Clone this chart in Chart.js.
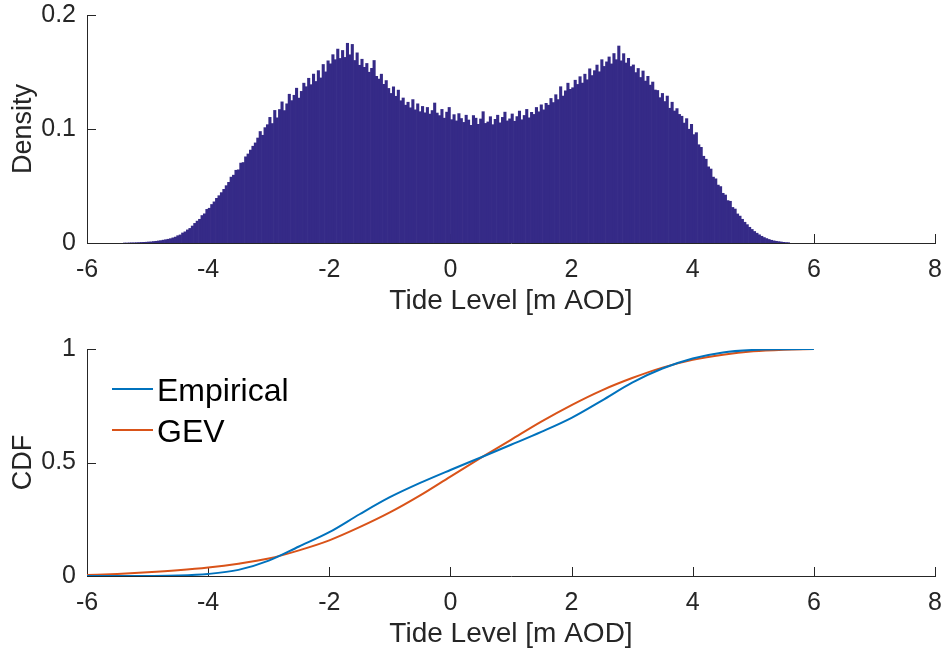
<!DOCTYPE html>
<html>
<head>
<meta charset="utf-8">
<script src="https://cdn.jsdelivr.net/npm/chart.js@4"></script>
<style>
  html, body { margin: 0; padding: 0; background: #fff; width: 945px; height: 653px; overflow: hidden; }
  #top { position: absolute; left: 0; top: 0; width: 945px; height: 326px; }
  #bot { position: absolute; left: 0; top: 326px; width: 945px; height: 327px; }
</style>
</head>
<body>
<div id="top"><canvas id="hist"></canvas></div>
<div id="bot"><canvas id="cdf"></canvas></div>
<script>
// histogram: bins of 0.04 m starting at -5.4
const binStart = -5.4;
const binWidth = 0.04;
const density = [
  0, 0, 0.0001, 0.0002, 0.0002,
  0.0003, 0.0004, 0.0005, 0.0006, 0.0007,
  0.0009, 0.0010, 0.0013, 0.0015, 0.0018,
  0.0021, 0.0025, 0.0029, 0.0033, 0.0038,
  0.0045, 0.0052, 0.0064, 0.0071, 0.0088,
  0.0098, 0.0115, 0.0128, 0.0149, 0.0172,
  0.0192, 0.0208, 0.0241, 0.0256, 0.0295,
  0.0305, 0.0338, 0.0361, 0.0392, 0.0415,
  0.0442, 0.0471, 0.0503, 0.0532, 0.0578,
  0.0595, 0.0638, 0.0642, 0.0701, 0.0706,
  0.0756, 0.0781, 0.0815, 0.0849, 0.0878,
  0.0921, 0.0978, 0.0945, 0.1012, 0.1038,
  0.1102, 0.1048, 0.1163, 0.1098, 0.1171,
  0.1238, 0.1162, 0.1221, 0.1305, 0.1249,
  0.1296, 0.1358, 0.1271, 0.1330, 0.1402,
  0.1371, 0.1445, 0.1389, 0.1482, 0.1417,
  0.1512, 0.1448, 0.1566, 0.1501, 0.1598,
  0.1572, 0.1652, 0.1608, 0.1701, 0.1619,
  0.1689, 0.1628, 0.1752, 0.1651, 0.1742,
  0.1601, 0.1668, 0.1559, 0.1612, 0.1541,
  0.1575, 0.1498, 0.1532, 0.1601, 0.1462,
  0.1438, 0.1481, 0.1392, 0.1425, 0.1356,
  0.1312, 0.1369, 0.1287, 0.1341, 0.1248,
  0.1272, 0.1209, 0.1235, 0.1186, 0.1258,
  0.1168, 0.1221, 0.1152, 0.1198, 0.1142,
  0.1189, 0.1131, 0.1162, 0.1228, 0.1140,
  0.1118, 0.1172, 0.1095, 0.1148, 0.1189,
  0.1082, 0.1126, 0.1071, 0.1135, 0.1092,
  0.1058, 0.1121, 0.1079, 0.1032, 0.1118,
  0.1095, 0.1041, 0.1088, 0.1152, 0.1049,
  0.1062, 0.1108, 0.1038, 0.1085, 0.1121,
  0.1054, 0.1102, 0.1148, 0.1071, 0.1089,
  0.1132, 0.1068, 0.1109, 0.1158, 0.1081,
  0.1119, 0.1172, 0.1098, 0.1146, 0.1128,
  0.1189, 0.1151, 0.1212, 0.1168, 0.1225,
  0.1209, 0.1268, 0.1232, 0.1301, 0.1258,
  0.1371, 0.1289, 0.1335, 0.1402, 0.1348,
  0.1362, 0.1428, 0.1391, 0.1459, 0.1402,
  0.1481, 0.1432, 0.1528, 0.1469, 0.1512,
  0.1561, 0.1502, 0.1608, 0.1549, 0.1589,
  0.1632, 0.1571, 0.1662, 0.1608, 0.1728,
  0.1598, 0.1661, 0.1579, 0.1621, 0.1548,
  0.1562, 0.1495, 0.1531, 0.1452, 0.1509,
  0.1421, 0.1462, 0.1385, 0.1412, 0.1342,
  0.1338, 0.1275, 0.1312, 0.1241, 0.1289,
  0.1182, 0.1235, 0.1158, 0.1179, 0.1128,
  0.1112, 0.1052, 0.1091, 0.0998, 0.1041,
  0.0951, 0.0968, 0.0862, 0.0839, 0.0761,
  0.0735, 0.0668, 0.0649, 0.0578, 0.0563,
  0.0508, 0.0495, 0.0436, 0.0421, 0.0372,
  0.0366, 0.0312, 0.0298, 0.0255, 0.0236,
  0.0208, 0.0182, 0.0161, 0.0138, 0.0119,
  0.0101, 0.0086, 0.0072, 0.0059, 0.0048,
  0.0039, 0.0031, 0.0024, 0.0019, 0.0015,
  0.0012, 0.0009, 0.0006, 0.0004, 0.0003
];

// cdf curves
const cdfX = [-6, -5.5, -5, -4.5, -4, -3.5, -3, -2.5, -2, -1.5, -1, -0.5, 0,
              0.5, 1, 1.5, 2, 2.5, 3, 3.5, 4, 4.5, 5, 5.5, 6];
const empirical = [0, 0, 0.0003, 0.002, 0.009, 0.027, 0.068, 0.13, 0.193, 0.272, 0.347, 0.41, 0.467,
                   0.522, 0.578, 0.635, 0.697, 0.773, 0.852, 0.914, 0.958, 0.985, 0.996, 0.999, 1.0];
const gev = [0.004, 0.009, 0.016, 0.025, 0.037, 0.054, 0.077, 0.113, 0.157, 0.215, 0.28, 0.355, 0.438,
             0.52, 0.60, 0.68, 0.753, 0.818, 0.872, 0.918, 0.952, 0.975, 0.99, 0.997, 1.0];

const xTicks = { min: -6, max: 8, step: 2 };

const FONT = '"Liberation Sans", Arial, Helvetica, sans-serif';
const AX = '#262626';

// MATLAB style ticks pointing into the axes
const innerTicks = {
  id: 'innerTicks',
  beforeDatasetsDraw(chart) {
    const { ctx, chartArea: a, scales: { x, y } } = chart;
    ctx.save();
    ctx.strokeStyle = AX;
    ctx.lineWidth = 1;
    ctx.beginPath();
    x.ticks.forEach(t => {
      const px = Math.round(x.getPixelForValue(t.value)) + 0.5;
      ctx.moveTo(px, a.bottom);
      ctx.lineTo(px, a.bottom - 9);
    });
    y.ticks.forEach(t => {
      const py = Math.round(y.getPixelForValue(t.value)) + 0.5;
      ctx.moveTo(a.left, py);
      ctx.lineTo(a.left + 9, py);
    });
    ctx.stroke();
    ctx.restore();
  }
};

// legend inside the axes, no box
const insideLegend = {
  id: 'insideLegend',
  afterDatasetsDraw(chart) {
    const { ctx, chartArea: a } = chart;
    ctx.save();
    ctx.font = '32px ' + FONT;
    ctx.textBaseline = 'middle';
    ctx.textAlign = 'left';
    chart.data.datasets.forEach((ds, i) => {
      const yy = a.top + 40 + i * 41;
      ctx.strokeStyle = ds.borderColor;
      ctx.lineWidth = 2;
      ctx.beginPath();
      ctx.moveTo(a.left + 25, yy);
      ctx.lineTo(a.left + 66, yy);
      ctx.stroke();
      ctx.fillStyle = '#000';
      ctx.fillText(ds.label, a.left + 70, yy + 3);
    });
    ctx.restore();
  }
};

function xScale(axisHeight, titlePad) {
  return {
    type: 'linear',
    min: xTicks.min,
    max: xTicks.max,
    offset: false,
    afterFit: s => { s.height = axisHeight; s.paddingLeft = 0; s.paddingRight = 0; },
    ticks: { stepSize: xTicks.step, color: AX, font: { family: FONT, size: 25 }, padding: 12, maxRotation: 0, autoSkip: false },
    grid: { display: false, drawTicks: false },
    border: { display: true, color: AX, width: 1 },
    title: { display: true, text: 'Tide Level [m AOD]', color: AX, font: { family: FONT, size: 28 }, padding: { top: 0, bottom: titlePad } }
  };
}

function yScale(max, step, label) {
  return {
    min: 0,
    max: max,
    afterFit: s => { s.width = 87; s.paddingTop = 0; s.paddingBottom = 0; },
    ticks: { stepSize: step, color: AX, font: { family: FONT, size: 25 }, padding: 11, callback: v => String(v) },
    grid: { display: false, drawTicks: false },
    border: { display: true, color: AX, width: 1 },
    title: { display: true, text: label, color: AX, font: { family: FONT, size: 27 }, padding: { top: 7, bottom: 0 } }
  };
}

new Chart(document.getElementById('hist'), {
  type: 'bar',
  data: {
    datasets: [{
      label: 'Density',
      data: density.map((d, i) => ({ x: binStart + binWidth * (i + 0.5), y: d })),
      backgroundColor: '#352a87',
      borderWidth: 0,
      barPercentage: 1,
      categoryPercentage: 1
    }]
  },
  options: {
    responsive: true,
    maintainAspectRatio: false,
    animation: false,
    layout: { padding: { top: 15, right: 10, left: 0, bottom: 0 } },
    plugins: { legend: { display: false }, tooltip: { enabled: false } },
    scales: {
      x: xScale(83, 8),
      y: yScale(0.2, 0.1, 'Density')
    }
  },
  plugins: [innerTicks]
});

new Chart(document.getElementById('cdf'), {
  type: 'line',
  data: {
    datasets: [
      {
        label: 'Empirical',
        data: cdfX.map((x, i) => ({ x: x, y: empirical[i] })),
        borderColor: '#0072bd',
        borderWidth: 2,
        pointRadius: 0,
        cubicInterpolationMode: 'monotone',
        fill: false
      },
      {
        label: 'GEV',
        data: cdfX.map((x, i) => ({ x: x, y: gev[i] })),
        borderColor: '#d95319',
        borderWidth: 2,
        pointRadius: 0,
        cubicInterpolationMode: 'monotone',
        fill: false
      }
    ]
  },
  options: {
    responsive: true,
    maintainAspectRatio: false,
    animation: false,
    layout: { padding: { top: 23, right: 10, left: 0, bottom: 0 } },
    plugins: { legend: { display: false }, tooltip: { enabled: false } },
    scales: {
      x: xScale(77, 2),
      y: yScale(1, 0.5, 'CDF')
    }
  },
  plugins: [innerTicks, insideLegend]
});
</script>
</body>
</html>
